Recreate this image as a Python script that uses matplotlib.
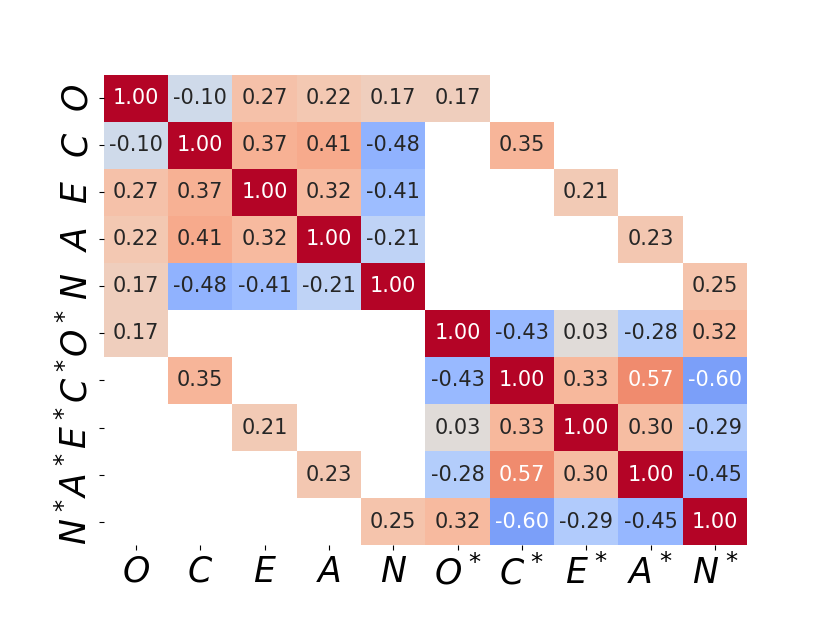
import numpy as np
import matplotlib
matplotlib.use("Agg")
import matplotlib.pyplot as plt
import seaborn as sns

labels = ["$O$", "$C$", "$E$", "$A$", "$N$", "$O^*$", "$C^*$", "$E^*$", "$A^*$", "$N^*$"]
nan = np.nan
row_O  = [1.00, -0.10, 0.27, 0.22, 0.17, 0.17, nan, nan, nan, nan]
row_C  = [-0.10, 1.00, 0.37, 0.41, -0.48, nan, 0.35, nan, nan, nan]
row_E  = [0.27, 0.37, 1.00, 0.32, -0.41, nan, nan, 0.21, nan, nan]
row_A  = [0.22, 0.41, 0.32, 1.00, -0.21, nan, nan, nan, 0.23, nan]
row_N  = [0.17, -0.48, -0.41, -0.21, 1.00, nan, nan, nan, nan, 0.25]
row_Os = [0.17, nan, nan, nan, nan, 1.00, -0.43, 0.03, -0.28, 0.32]
row_Cs = [nan, 0.35, nan, nan, nan, -0.43, 1.00, 0.33, 0.57, -0.60]
row_Es = [nan, nan, 0.21, nan, nan, 0.03, 0.33, 1.00, 0.30, -0.29]
row_As = [nan, nan, nan, 0.23, nan, -0.28, 0.57, 0.30, 1.00, -0.45]
row_Ns = [nan, nan, nan, nan, 0.25, 0.32, -0.60, -0.29, -0.45, 1.00]

data = np.array([row_O, row_C, row_E, row_A, row_N, row_Os, row_Cs, row_Es, row_As, row_Ns])

fig = plt.figure(figsize=(8.3, 6.23), dpi=100)
ax = fig.add_axes([0.125, 0.125, 0.775, 0.755])
sns.heatmap(data, ax=ax, mask=np.isnan(data), cmap="coolwarm", vmin=-1, vmax=1,
            annot=True, fmt=".2f", annot_kws={"fontsize": 15}, cbar=False,
            xticklabels=labels, yticklabels=labels)
ax.tick_params(axis="both", labelsize=25)
plt.setp(ax.get_xticklabels(), rotation=0)
plt.setp(ax.get_yticklabels(), rotation=90, va="center")
fig.savefig("out.png", dpi=100)
